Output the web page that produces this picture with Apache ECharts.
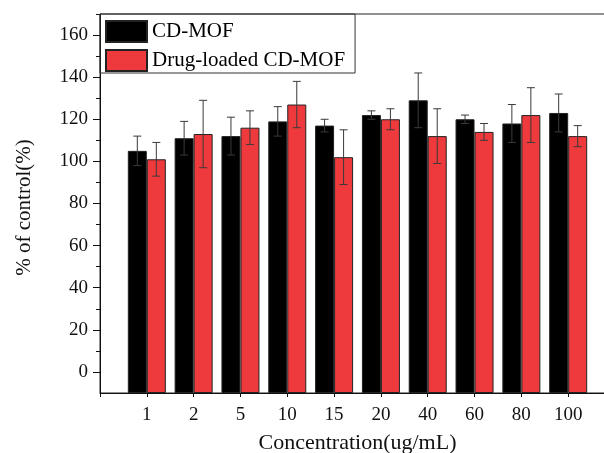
<!DOCTYPE html>
<html>
<head>
<meta charset="utf-8">
<script src="https://cdn.jsdelivr.net/npm/echarts@6/dist/echarts.min.js"></script>
<style>html,body{margin:0;padding:0;background:#fff}#c{width:604px;height:453px}</style>
</head>
<body>
<div id="c"></div>
<script>
var concentrations = ['1', '2', '5', '10', '15', '20', '40', '60', '80', '100'];
var cdMof = [105, 111, 112, 119, 117, 122, 129, 120, 118, 123];
var cdMofErr = [7, 8, 9, 7, 3, 2, 13, 2, 9, 9];
var drugLoaded = [101, 113, 116, 127, 102, 120, 112, 114, 122, 112];
var drugLoadedErr = [8, 16, 8, 11, 13, 5, 13, 4, 13, 5];
var majorTicks = [0, 20, 40, 60, 80, 100, 120, 140, 160];
var minorTicks = [10, 30, 50, 70, 90, 110, 130, 150, 170];

var FONT = '"Liberation Serif", "Times New Roman", serif';
var BAR_W = 19;

// pad one empty slot on each side so category points sit inside the axis
var cats = [''].concat(concentrations).concat(['']);
function pad(arr) { return [null].concat(arr).concat([null]); }

function errData(vals, errs) {
  return vals.map(function (v, i) { return [i + 1, v, v - errs[i], v + errs[i]]; });
}
function errRender(shift) {
  return function (params, api) {
    var x = api.value(0);
    var lo = api.coord([x, api.value(2)]);
    var hi = api.coord([x, api.value(3)]);
    var cx = lo[0] + shift;
    var cap = 4;
    var st = { stroke: '#3a3a3a', lineWidth: 1 };
    return {
      type: 'group',
      children: [
        { type: 'line', shape: { x1: cx, y1: lo[1], x2: cx, y2: hi[1] }, style: st },
        { type: 'line', shape: { x1: cx - cap, y1: hi[1], x2: cx + cap, y2: hi[1] }, style: st },
        { type: 'line', shape: { x1: cx - cap, y1: lo[1], x2: cx + cap, y2: lo[1] }, style: st }
      ]
    };
  };
}

var chart = echarts.init(document.getElementById('c'), null, { renderer: 'canvas' });
chart.setOption({
  animation: false,
  backgroundColor: '#fff',
  textStyle: { fontFamily: FONT },
  grid: {
    left: 100, top: 14, right: -11, bottom: 60, containLabel: false, outerBoundsMode: 'none',
    show: true, borderColor: '#222', borderWidth: 1, backgroundColor: 'transparent'
  },
  legend: {
    left: 100, top: 14, orient: 'vertical', icon: 'rect',
    itemWidth: 41, itemHeight: 21, itemGap: 6,
    padding: [6, 10, 1, 5],
    borderColor: '#333', borderWidth: 1,
    textStyle: { fontFamily: FONT, fontSize: 21, color: '#000' },
    data: ['CD-MOF', 'Drug-loaded CD-MOF']
  },
  xAxis: {
    type: 'category', data: cats, boundaryGap: false,
    axisLine: { onZero: false, lineStyle: { color: '#111', width: 1 } },
    axisTick: { show: true, length: 4, lineStyle: { color: '#111' } },
    axisLabel: { fontFamily: FONT, fontSize: 19, color: '#111', margin: 13, interval: 0 },
    name: 'Concentration(ug/mL)', nameLocation: 'middle', nameGap: 39,
    nameTextStyle: { fontFamily: FONT, fontSize: 22, color: '#111' },
    splitLine: { show: false }
  },
  yAxis: [{
    type: 'value', min: -10, max: 170, interval: 10, startValue: -10, position: 'left',
    axisLine: { show: true, lineStyle: { color: '#111', width: 1 } },
    axisTick: { show: true, length: 7, customValues: majorTicks, lineStyle: { color: '#111' } },
    axisLabel: { fontFamily: FONT, fontSize: 19, color: '#111', margin: 12, customValues: majorTicks },
    splitLine: { show: false },
    name: '% of control(%)', nameLocation: 'middle', nameGap: 65, nameRotate: 90,
    nameTextStyle: { fontFamily: FONT, fontSize: 21, color: '#111', padding: [0, 8, 0, 0] }
  }, {
    type: 'value', min: -10, max: 170, interval: 10, position: 'left',
    axisLine: { show: false },
    axisTick: { show: true, length: 4, customValues: minorTicks, lineStyle: { color: '#111' } },
    axisLabel: { show: false },
    splitLine: { show: false }
  }],
  series: [
    {
      name: 'CD-MOF', type: 'bar', data: pad(cdMof), barWidth: BAR_W, barGap: '0%',
      itemStyle: { color: '#000', borderColor: '#222', borderWidth: 1 }
    },
    {
      name: 'Drug-loaded CD-MOF', type: 'bar', data: pad(drugLoaded), barWidth: BAR_W, barGap: '0%',
      itemStyle: { color: '#ee3a3c', borderColor: '#222', borderWidth: 1 }
    },
    {
      type: 'custom', renderItem: errRender(-BAR_W / 2), data: errData(cdMof, cdMofErr), z: 10,
      encode: { x: 0, y: [1, 2, 3] }, silent: true
    },
    {
      type: 'custom', renderItem: errRender(BAR_W / 2), data: errData(drugLoaded, drugLoadedErr), z: 10,
      encode: { x: 0, y: [1, 2, 3] }, silent: true
    }
  ]
});
</script>
</body>
</html>
